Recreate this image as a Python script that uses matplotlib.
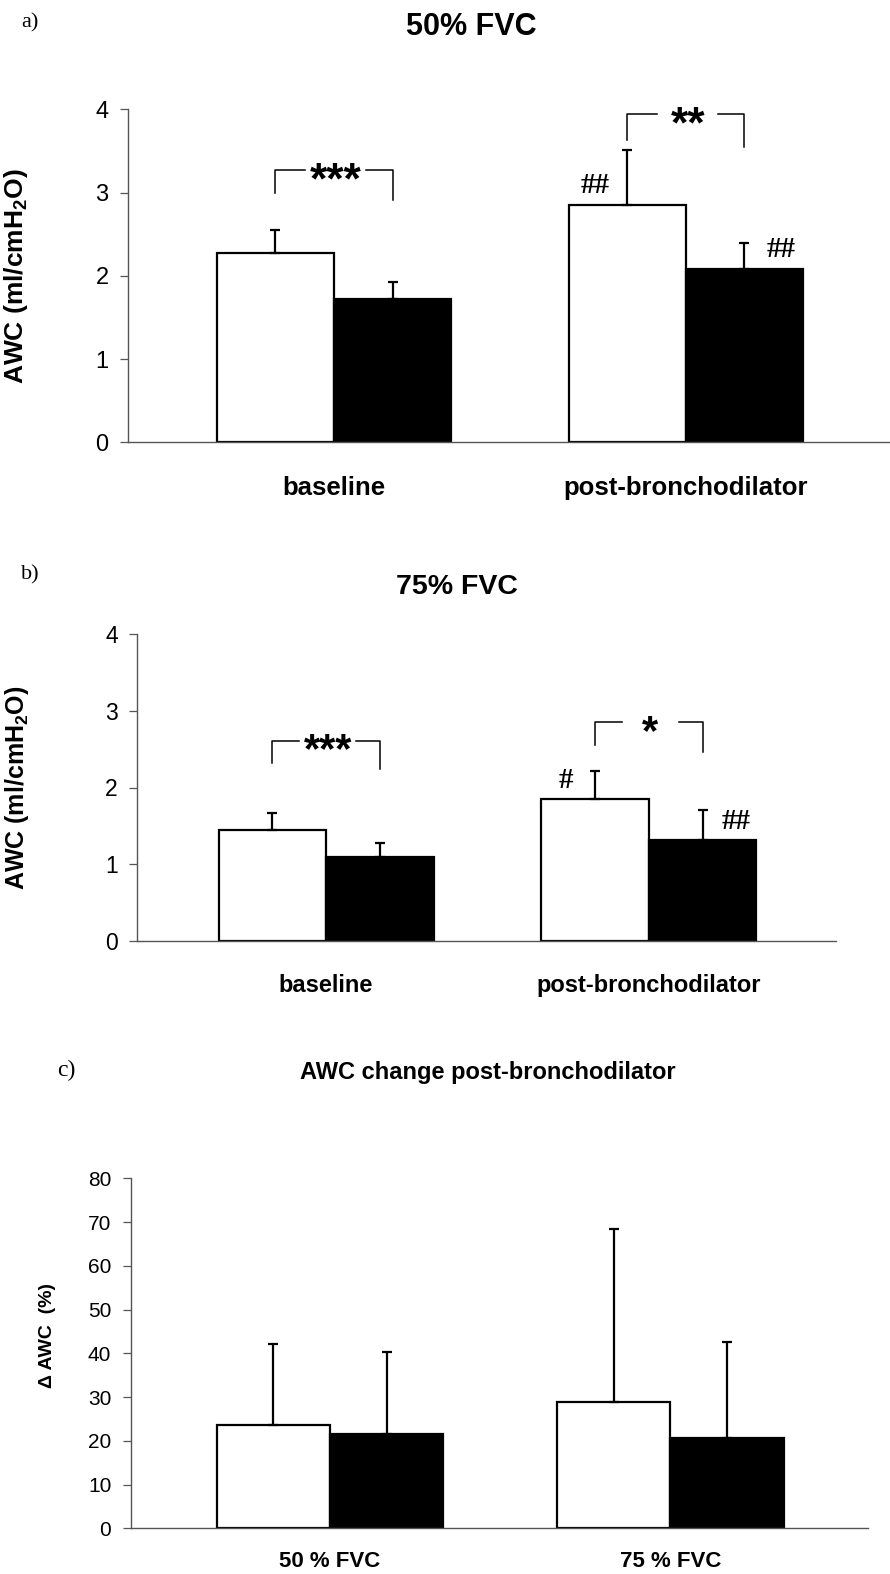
import numpy as np
import matplotlib
matplotlib.use('Agg')
import matplotlib.pyplot as plt

plt.rcParams['font.family'] = ['Liberation Sans', 'DejaVu Sans']

#%% Datos
groups_ab = ['baseline', 'post-bronchodilator']
groups_c = ['50 % FVC', '75 % FVC']

# a) 50% FVC
a_white = [2.27, 2.85]
a_white_sd = [0.28, 0.66]
a_black = [1.72, 2.08]
a_black_sd = [0.20, 0.31]
a_stars = ['***', '**']
a_br_top = [3.27, 3.94]
a_br_left = [2.99, 3.63]
a_br_right = [2.91, 3.55]
a_hash_white = ['', '##']
a_hash_black = ['', '##']

# b) 75% FVC
b_white = [1.44, 1.845]
b_white_sd = [0.23, 0.375]
b_black = [1.09, 1.32]
b_black_sd = [0.19, 0.38]
b_stars = ['***', '*']
b_br_top = [2.61, 2.85]
b_br_left = [2.32, 2.55]
b_br_right = [2.24, 2.46]
b_hash_white = ['', '#']
b_hash_black = ['', '##']

# c) cambio post-broncodilatador (%)
c_white = [23.7, 28.9]
c_white_sd = [18.5, 39.5]
c_black = [21.5, 20.6]
c_black_sd = [18.7, 21.9]

W, H = 890, 1574
fig = plt.figure(figsize=(W / 100, H / 100), dpi=100)
w = 0.333
spine_col = '#555555'


def rect(left, top, right, bottom):
    return [left / W, 1 - bottom / H, (right - left) / W, (bottom - top) / H]


def base_panel(ax, labels, white, white_sd, black, black_sd, ymax, step,
               tick_fs, lab_fs, ylabel, ylab_fs, ylab_xy, xpad):
    x = np.arange(len(labels))
    ax.bar(x - w / 2, white, w, color='white', edgecolor='black', linewidth=1.6, zorder=2)
    ax.bar(x + w / 2, black, w, color='black', edgecolor='black', linewidth=1.6, zorder=2)
    ax.errorbar(x - w / 2, white, yerr=[np.zeros(len(x)), white_sd], fmt='none',
                ecolor='black', elinewidth=1.6, capsize=3.3, capthick=1.6, zorder=3)
    ax.errorbar(x + w / 2, black, yerr=[np.zeros(len(x)), black_sd], fmt='none',
                ecolor='black', elinewidth=1.6, capsize=3.3, capthick=1.6, zorder=3)
    ax.set_xlim(-0.585, 1.58)
    ax.set_ylim(0, ymax)
    ax.set_yticks(np.arange(0, ymax + step / 2, step))
    ax.set_xticks(x)
    ax.set_xticklabels(labels, fontweight='bold', fontsize=lab_fs)
    ax.tick_params(axis='x', length=0, pad=xpad)
    ax.tick_params(axis='y', direction='out', length=6, width=0.9, color=spine_col,
                   labelsize=tick_fs, pad=8)
    for s in ['top', 'right']:
        ax.spines[s].set_visible(False)
    for s in ['left', 'bottom']:
        ax.spines[s].set_color(spine_col)
        ax.spines[s].set_linewidth(1.0)
    ax.set_ylabel(ylabel, fontweight='bold', fontsize=ylab_fs)
    ax.yaxis.set_label_coords(*ylab_xy)
    return x


def brackets(ax, x, stars, top, left, right, star_fs):
    for i in range(len(x)):
        xl = x[i] - w / 2
        xr = x[i] + w / 2
        g0 = x[i] - 0.083
        g1 = x[i] + 0.092
        ax.plot([xl, xl, g0], [left[i], top[i], top[i]], color='black', lw=1.1, clip_on=False)
        ax.plot([g1, xr, xr], [top[i], top[i], right[i]], color='black', lw=1.1, clip_on=False)
        ax.annotate(stars[i], (x[i] + 0.005, top[i]), xytext=(0, -0.52 * star_fs),
                    textcoords='offset points', ha='center', va='baseline',
                    fontsize=star_fs, fontweight='bold', annotation_clip=False)


def hashes(ax, x, white, black, hw, hb, dy):
    for i in range(len(x)):
        if hw[i]:
            ax.text(x[i] - w / 2 - 0.09, white[i] + dy, hw[i], ha='center', va='center',
                    fontsize=21, fontweight='bold', family='Liberation Serif')
        if hb[i]:
            ax.text(x[i] + w / 2 + 0.105, black[i] + dy, hb[i], ha='center', va='center',
                    fontsize=21, fontweight='bold', family='Liberation Serif')


#%% a) 50% FVC
ax1 = fig.add_axes(rect(128, 109.3, 890, 442.3))
x = base_panel(ax1, groups_ab, a_white, a_white_sd, a_black, a_black_sd, 4, 1,
               17, 18.5, 'AWC (ml/cmH$_\\mathregular{2}$O)', 19, (-0.128, 0.5), 24)
brackets(ax1, x, a_stars, a_br_top, a_br_left, a_br_right, 32)
hashes(ax1, x, a_white, a_black, a_hash_white, a_hash_black, 0.23)

#%% b) 75% FVC
ax2 = fig.add_axes(rect(137.3, 634.3, 836, 940.7))
x = base_panel(ax2, groups_ab, b_white, b_white_sd, b_black, b_black_sd, 4, 1,
               16.5, 17, 'AWC (ml/cmH$_\\mathregular{2}$O)', 18, (-0.152, 0.5), 24)
brackets(ax2, x, b_stars, b_br_top, b_br_left, b_br_right, 30)
hashes(ax2, x, b_white, b_black, b_hash_white, b_hash_black, 0.24)

#%% c) cambio
ax3 = fig.add_axes(rect(130.7, 1178.3, 868, 1528.3))
base_panel(ax3, groups_c, c_white, c_white_sd, c_black, c_black_sd, 80, 10,
           15, 16, '\u0394 AWC  (%)', 14, (-0.101, 0.55), 16)

#%% titulos y letras
fig.text(471 / W, 1 - 27 / H, '50% FVC', ha='center', va='center', fontsize=22, fontweight='bold')
fig.text(457 / W, 1 - 587 / H, '75% FVC', ha='center', va='center', fontsize=20.5, fontweight='bold')
fig.text(488 / W, 1 - 1072 / H, 'AWC change post-bronchodilator', ha='center', va='center',
         fontsize=17, fontweight='bold')
fig.text(21 / W, 1 - 23 / H, 'a)', ha='left', va='center', fontsize=16, family='Liberation Serif')
fig.text(21 / W, 1 - 575 / H, 'b)', ha='left', va='center', fontsize=16, family='Liberation Serif')
fig.text(57 / W, 1 - 1070 / H, 'c)', ha='left', va='center', fontsize=17, family='Liberation Serif')

fig.savefig('out.png', dpi=100)
